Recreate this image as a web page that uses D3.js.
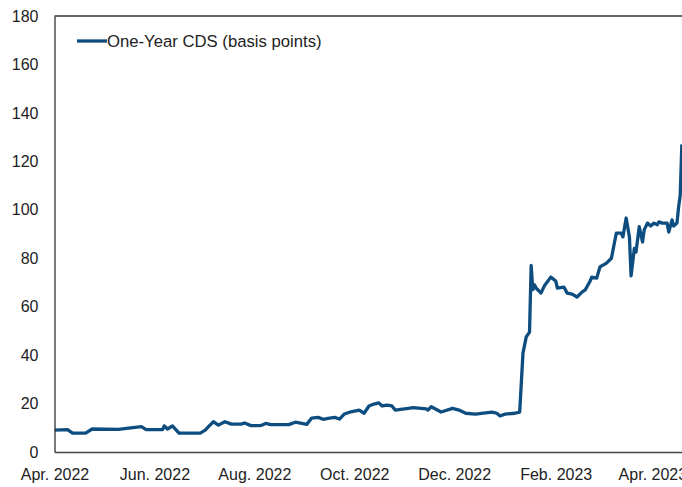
<!DOCTYPE html>
<html>
<head>
<meta charset="utf-8">
<script src="https://cdn.jsdelivr.net/npm/d3@7.9.0/dist/d3.min.js"></script>
<style>
  body { margin: 0; background: #fff; }
  svg { display: block; font-family: "Liberation Sans", Arial, sans-serif; }
</style>
</head>
<body>
<svg id="chart" width="682" height="487"></svg>
<script>
const dates = [
  '2022-04-01','2022-04-09','2022-04-12','2022-04-20','2022-04-24','2022-05-10','2022-05-24','2022-05-27',
  '2022-06-06','2022-06-07','2022-06-09','2022-06-12','2022-06-16','2022-06-29','2022-07-02','2022-07-04',
  '2022-07-07','2022-07-10','2022-07-14','2022-07-18','2022-07-24','2022-07-26','2022-07-30','2022-08-05',
  '2022-08-08','2022-08-11','2022-08-22','2022-08-26','2022-08-30','2022-09-02','2022-09-05','2022-09-09',
  '2022-09-12','2022-09-15','2022-09-19','2022-09-22','2022-09-25','2022-09-29','2022-10-04','2022-10-07',
  '2022-10-10','2022-10-13','2022-10-16','2022-10-18','2022-10-21','2022-10-24','2022-10-26','2022-11-03',
  '2022-11-06','2022-11-14','2022-11-15','2022-11-17','2022-11-23','2022-11-30','2022-12-04','2022-12-08',
  '2022-12-14','2022-12-24','2022-12-27','2022-12-29','2023-01-01','2023-01-07','2023-01-10','2023-01-12',
  '2023-01-14','2023-01-16','2023-01-17','2023-01-18','2023-01-19','2023-01-20','2023-01-23','2023-01-25',
  '2023-01-29','2023-02-01','2023-02-02','2023-02-06','2023-02-08','2023-02-11','2023-02-14','2023-02-17',
  '2023-02-19','2023-02-22','2023-02-23','2023-02-26','2023-02-28','2023-03-04','2023-03-07','2023-03-10',
  '2023-03-13','2023-03-14','2023-03-16','2023-03-18','2023-03-19','2023-03-21','2023-03-22','2023-03-24',
  '2023-03-26','2023-03-27','2023-03-29','2023-03-31','2023-04-02','2023-04-04','2023-04-05','2023-04-07',
  '2023-04-10','2023-04-11','2023-04-13','2023-04-14','2023-04-16','2023-04-17','2023-04-18','2023-04-19'
];
const cds = [
  9.0, 9.2, 7.8, 7.8, 9.5, 9.3, 10.5, 9.2,
  9.2, 10.8, 9.5, 10.8, 7.8, 7.8, 9.0, 10.5,
  12.5, 11.1, 12.5, 11.5, 11.5, 12.0, 10.9, 10.9,
  11.8, 11.3, 11.3, 12.3, 11.8, 11.4, 14.0, 14.3,
  13.5, 13.9, 14.3, 13.6, 15.7, 16.6, 17.3, 16.0,
  19.0, 19.8, 20.3, 19.0, 19.4, 19.0, 17.3, 18.0,
  18.3, 17.8, 17.3, 18.7, 16.5, 18.0, 17.3, 16.0,
  15.6, 16.5, 16.0, 14.9, 15.6, 16.0, 16.5, 40.8,
  47.5, 49.5, 77.0, 67.0, 69.0, 67.7, 65.6, 68.5,
  72.2, 70.6, 67.7, 68.1, 65.6, 65.2, 64.0, 66.0,
  66.9, 70.6, 72.2, 71.8, 76.4, 78.0, 80.0, 90.4,
  90.4, 88.8, 96.6, 88.8, 72.7, 84.0, 82.6, 93.0,
  86.7, 91.7, 94.5, 93.3, 94.5, 93.8, 95.0, 94.5,
  94.5, 90.8, 95.8, 93.3, 94.5, 101.0, 106.0, 127.0
];
const xTicks = ['2022-04-01','2022-06-01','2022-08-01','2022-10-01','2022-12-01','2023-02-01','2023-04-01'];
const yTicks = [0, 20, 40, 60, 80, 100, 120, 140, 160, 180];
const legendLabel = 'One-Year CDS (basis points)';

const parse = d3.timeParse('%Y-%m-%d');
const data = dates.map((d, i) => ({ date: parse(d), value: cds[i] }));

const svg = d3.select('#chart');
const plotLeft = 54.5, plotTop = 16, plotBottom = 452;
const lineColor = '#0e4d7f';

// axis runs past the window on the right, like the cropped original
const x = d3.scaleTime()
  .domain([parse('2022-04-01'), parse('2023-05-01')])
  .range([plotLeft, plotLeft + 395 * 1.638]);
const y = d3.scaleLinear().domain([0, 180]).range([plotBottom, plotTop]);

const clip = svg.append('defs').append('clipPath').attr('id', 'plot');
clip.append('rect').attr('x', plotLeft).attr('y', 0).attr('width', 682 - plotLeft).attr('height', plotBottom + 2);

svg.append('path')
  .datum(data)
  .attr('clip-path', 'url(#plot)')
  .attr('fill', 'none')
  .attr('stroke', lineColor)
  .attr('stroke-width', 3.3)
  .attr('stroke-linejoin', 'round')
  .attr('d', d3.line().x(d => x(d.date)).y(d => y(d.value)));

// frame
svg.append('line')
  .attr('x1', plotLeft).attr('x2', 682).attr('y1', plotTop).attr('y2', plotTop)
  .attr('stroke', '#333').attr('stroke-width', 1.3);

const yAxis = svg.append('g')
  .attr('transform', `translate(${plotLeft},0)`)
  .call(d3.axisLeft(y).tickValues(yTicks).tickSize(0).tickPadding(16));
yAxis.select('.domain').attr('stroke', '#333').attr('stroke-width', 1.3);
yAxis.selectAll('text').attr('font-size', 16).attr('fill', '#222')
  .attr('font-family', '"Liberation Sans", Arial, sans-serif');

const xAxis = svg.append('g')
  .attr('transform', `translate(0,${plotBottom})`)
  .call(d3.axisBottom(x).tickValues(xTicks.map(parse)).tickSize(0).tickPadding(17)
    .tickFormat(d3.timeFormat('%b. %Y')));
xAxis.select('.domain').attr('stroke', '#444').attr('stroke-width', 1.3);
xAxis.selectAll('text').attr('font-size', 16).attr('fill', '#222')
  .attr('font-family', '"Liberation Sans", Arial, sans-serif');

// legend
const legend = svg.append('g').attr('transform', 'translate(77,41)');
legend.append('line').attr('x1', 0).attr('x2', 30).attr('stroke', lineColor).attr('stroke-width', 3.3);
legend.append('text')
  .attr('x', 30).attr('dy', '0.35em')
  .attr('font-size', 16.7).attr('fill', '#222')
  .text(legendLabel);
</script>
</body>
</html>
